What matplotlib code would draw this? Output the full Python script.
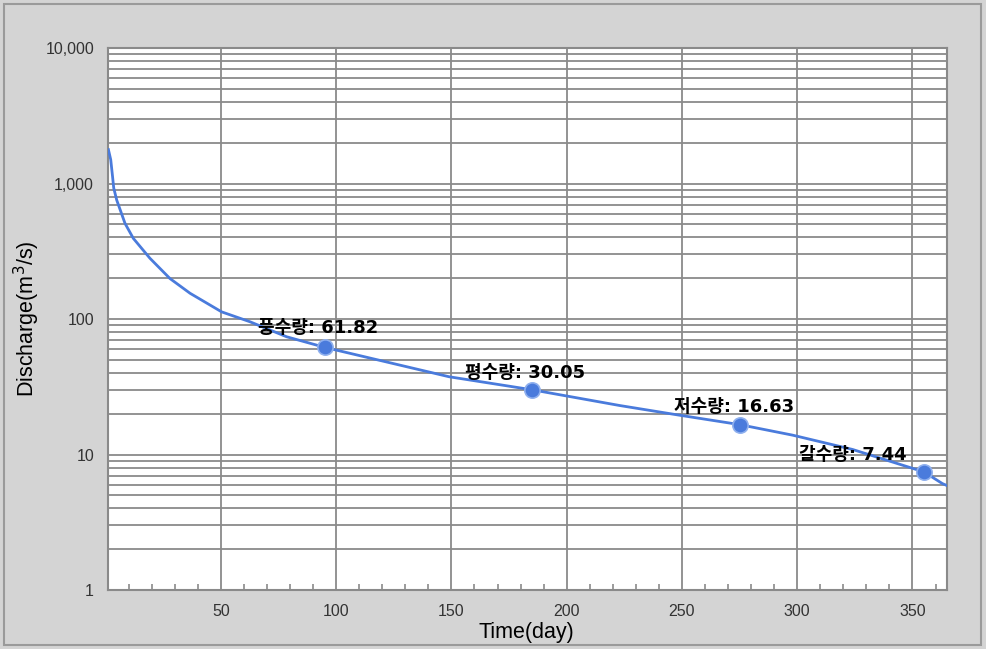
import matplotlib
matplotlib.use("Agg")
import matplotlib.pyplot as plt
from matplotlib.ticker import FixedLocator, MultipleLocator, FuncFormatter, NullFormatter
from matplotlib.patches import Rectangle

# flow duration curve
days = [1.2, 2.2, 3, 3.5, 4.8, 8.4, 12, 19.2, 27.9, 36.6, 50.3, 62.6, 78.5, 95,
        149, 185, 223, 249, 275, 298, 324, 355, 363, 365]
flow = [1780, 1500, 1122, 927, 755, 508, 394, 281, 199, 155, 113, 95.5, 74, 61.82,
        37.5, 30.05, 23.0, 19.5, 16.63, 13.9, 10.9, 7.44, 6.1, 5.9]

# characteristic flows
point_days = [95, 185, 275, 355]
point_vals = [61.82, 30.05, 16.63, 7.44]
point_names = ["풍수량", "평수량", "저수량", "갈수량"]

y_ticks = [1, 10, 100, 1000, 10000]
x_ticks = [50, 100, 150, 200, 250, 300, 350]

bg = "#d4d4d4"
grid_c = "#8a8a8a"
line_c = "#4a7bdc"

fig = plt.figure(figsize=(9.86, 6.49), dpi=100, facecolor=bg)
fig.patches.append(Rectangle((0.004, 0.006), 0.991, 0.988, transform=fig.transFigure,
                             fill=False, edgecolor="#9a9a9a", linewidth=1.5))
ax = fig.add_axes([0.1095, 0.0909, 0.851, 0.835])
ax.set_facecolor("white")

ax.set_yscale("log")
ax.set_ylim(1, 10000)
ax.set_xlim(1, 365)

ax.plot(days, flow, color=line_c, linewidth=2.0, zorder=3)
ax.plot(point_days, point_vals, "o", markersize=11, markerfacecolor=line_c,
        markeredgecolor="#8fb0ee", markeredgewidth=1.2, zorder=4)

offsets = [(-5, 14), (-5, 12), (-4, 13), (-51, 12)]
for d, v, n, off in zip(point_days, point_vals, point_names, offsets):
    ax.annotate(f"{n}: {v:.2f}", (d, v), xytext=off, textcoords="offset points",
                ha="center", va="center", fontsize=13, fontweight="bold",
                family=["DejaVu Sans", "Noto Sans CJK KR"], zorder=5)

ax.xaxis.set_major_locator(FixedLocator(x_ticks))
ax.xaxis.set_minor_locator(MultipleLocator(10))
ax.yaxis.set_major_locator(FixedLocator(y_ticks))
ax.yaxis.set_major_formatter(FuncFormatter(lambda v, p: f"{int(v):,}"))
ax.yaxis.set_minor_formatter(NullFormatter())

ax.grid(True, which="major", color=grid_c, linewidth=1.3)
ax.grid(True, which="minor", axis="y", color=grid_c, linewidth=1.3)
ax.set_axisbelow(True)

ax.tick_params(axis="both", which="major", length=0, labelsize=11.5,
               labelcolor="#333333")
ax.tick_params(axis="x", which="major", pad=10)
ax.tick_params(axis="y", which="major", pad=10)
ax.tick_params(axis="x", which="minor", direction="in", length=4,
               color=grid_c, width=1.2)
ax.tick_params(axis="y", which="minor", length=0)
for lab in ax.get_xticklabels() + ax.get_yticklabels():
    lab.set_family("Liberation Sans")

for s in ax.spines.values():
    s.set_color(grid_c)
    s.set_linewidth(1.5)

ax.set_xlabel("Time(day)", fontsize=15.5, family="Liberation Sans")
ax.set_ylabel("Discharge(m$^3$/s)", fontsize=15.5, family="Liberation Sans")
ax.xaxis.set_label_coords(0.499, -0.059)
ax.yaxis.set_label_coords(-0.079, 0.5)

fig.savefig("out.png", dpi=100, facecolor=bg)
